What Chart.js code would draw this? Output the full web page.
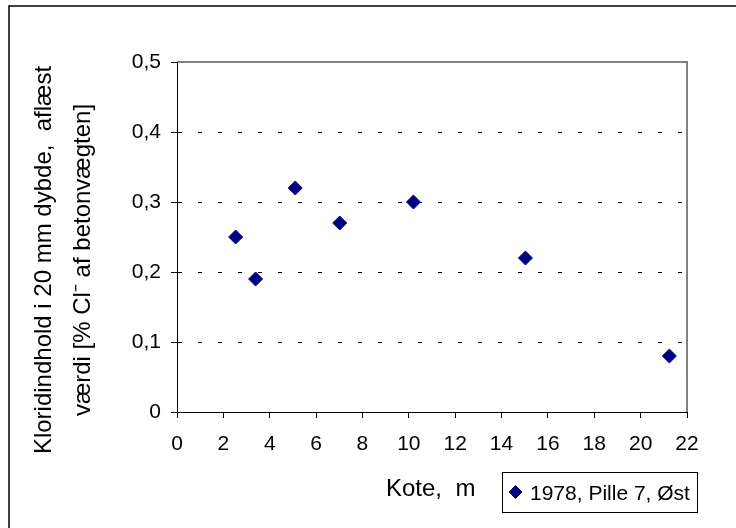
<!DOCTYPE html>
<html>
<head>
<meta charset="utf-8">
<script src="https://cdn.jsdelivr.net/npm/chart.js@4/dist/chart.umd.min.js"></script>
<style>
  html, body { margin: 0; padding: 0; background: #fff; }
  #wrap { width: 736px; height: 528px; }
</style>
</head>
<body>
<div id="wrap"><canvas id="c" width="736" height="528"></canvas></div>
<script>
// Kote (m) and chloride content at 20 mm depth
const koter = [2.53, 3.39, 5.10, 7.02, 10.2, 15.03, 21.24];
const kloridindhold = [0.25, 0.19, 0.32, 0.27, 0.30, 0.22, 0.08];
const seriesName = '1978, Pille 7, Øst';
const xTitle = 'Kote,  m';
const yTitle = ['Kloridindhold i 20 mm dybde,  aflæst', 'værdi [% Cl\u207B af betonvægten]'];
const xRange = [0, 22, 2];     // min, max, step
const yRange = [0, 0.5, 0.1];  // min, max, step

const FONT = '"Liberation Sans", Arial, sans-serif';
const NAVY = '#000080';

const fmtComma = v => (v === 0 ? '0' : v.toFixed(1).replace('.', ','));

// Grey frame on top/right of the plot area
const plotFrame = {
  id: 'plotFrame',
  beforeDraw(chart) {
    const { ctx, chartArea: a } = chart;
    ctx.save();
    ctx.strokeStyle = '#808080';
    ctx.lineWidth = 2;
    ctx.beginPath();
    ctx.moveTo(a.left, a.top);
    ctx.lineTo(a.right, a.top);
    ctx.lineTo(a.right, a.bottom);
    ctx.stroke();
    ctx.restore();
  }
};

// Axis titles, legend box and outer border
const decorations = {
  id: 'decorations',
  afterDraw(chart) {
    const ctx = chart.ctx;
    ctx.save();

    // outer border (left and top edges)
    ctx.strokeStyle = '#000';
    ctx.lineWidth = 1.5;
    ctx.beginPath();
    ctx.moveTo(9, 528);
    ctx.lineTo(9, 6);
    ctx.lineTo(736, 6);
    ctx.stroke();

    ctx.fillStyle = '#000';

    // y axis title, two rotated lines
    ctx.font = '24px ' + FONT;
    ctx.textAlign = 'center';
    ctx.textBaseline = 'middle';
    const lineX = [44, 83];
    yTitle.forEach((line, i) => {
      ctx.save();
      ctx.translate(lineX[i], 260);
      ctx.rotate(-Math.PI / 2);
      ctx.fillText(line, 0, 0);
      ctx.restore();
    });

    // x axis title
    ctx.font = '24px ' + FONT;
    ctx.textAlign = 'left';
    ctx.textBaseline = 'alphabetic';
    ctx.fillText(xTitle, 386, 496);

    // legend
    ctx.lineWidth = 1;
    ctx.strokeStyle = '#000';
    ctx.strokeRect(502.5, 472.5, 195, 40);
    ctx.fillStyle = NAVY;
    ctx.strokeStyle = NAVY;
    Chart.helpers.drawPoint(ctx, { pointStyle: 'rectRot', radius: 6.5, borderWidth: 1 }, 515.5, 492);
    ctx.fillStyle = '#000';
    ctx.font = '21px ' + FONT;
    ctx.fillText(seriesName, 530, 499.5);

    ctx.restore();
  }
};

new Chart(document.getElementById('c'), {
  type: 'scatter',
  data: {
    datasets: [{
      label: seriesName,
      data: koter.map((x, i) => ({ x, y: kloridindhold[i] })),
      pointStyle: 'rectRot',
      pointRadius: 7,
      pointHoverRadius: 7,
      backgroundColor: NAVY,
      borderColor: NAVY,
      borderWidth: 1
    }]
  },
  options: {
    responsive: false,
    devicePixelRatio: 1,
    animation: false,
    events: [],
    layout: { padding: { top: 62, right: 49, left: 0, bottom: 0 } },
    plugins: {
      legend: { display: false },
      tooltip: { enabled: false }
    },
    scales: {
      x: {
        type: 'linear',
        min: xRange[0],
        max: xRange[1],
        afterFit: s => { s.height = 116; },
        ticks: {
          stepSize: xRange[2],
          autoSkip: false,
          maxRotation: 0,
          color: '#000',
          padding: 14,
          font: { family: FONT, size: 21 }
        },
        grid: {
          drawOnChartArea: false,
          drawTicks: true,
          tickLength: 6,
          tickColor: '#000',
          color: '#000'
        },
        border: { display: true, color: '#000', width: 1 }
      },
      y: {
        type: 'linear',
        min: yRange[0],
        max: yRange[1],
        afterFit: s => { s.width = 177; },
        ticks: {
          stepSize: yRange[2],
          color: '#000',
          padding: 10,
          font: { family: FONT, size: 21 },
          callback: v => fmtComma(v)
        },
        grid: {
          drawTicks: true,
          tickLength: 6,
          tickColor: '#000',
          lineWidth: 1,
          color: c => {
            const v = c.tick ? c.tick.value : null;
            return (v === null || Math.abs(v) < 1e-9 || Math.abs(v - yRange[1]) < 1e-9) ? 'rgba(0,0,0,0)' : '#000';
          }
        },
        border: { display: true, color: '#000', width: 1, dash: [4, 16] }
      }
    }
  },
  plugins: [plotFrame, decorations]
});
</script>
</body>
</html>
